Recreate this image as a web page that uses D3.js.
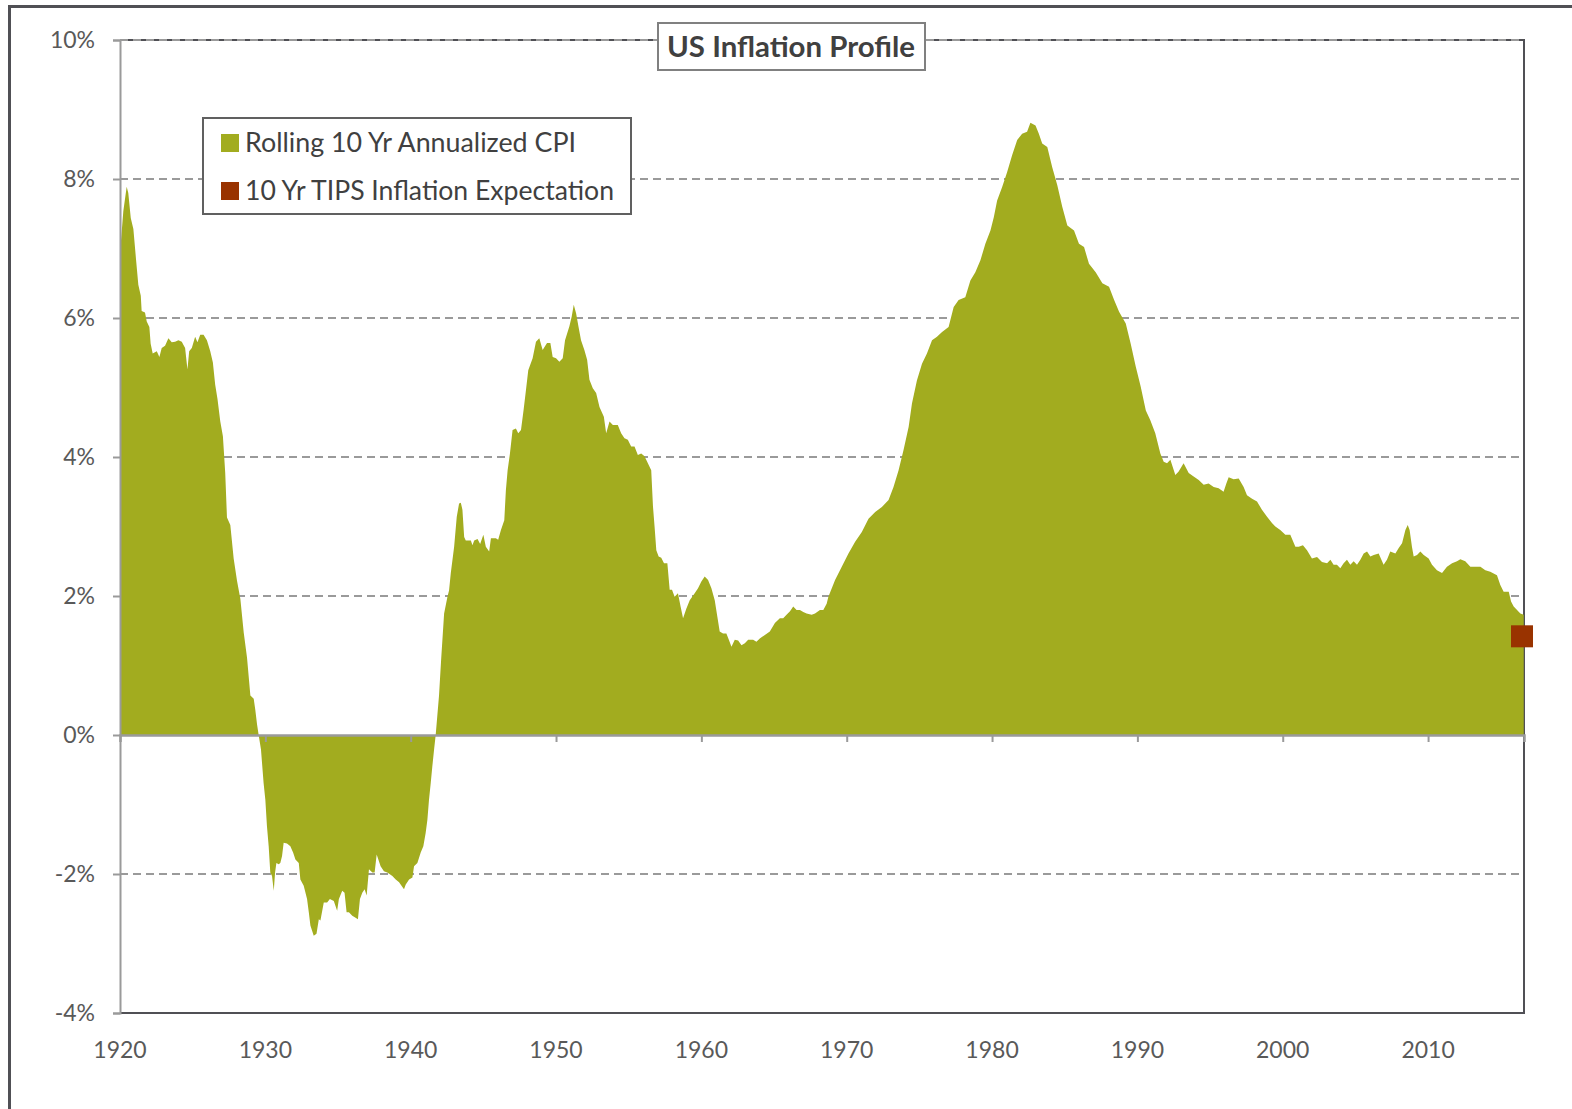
<!DOCTYPE html>
<html>
<head>
<meta charset="utf-8">
<script src="https://cdn.jsdelivr.net/npm/d3@7"></script>
<style>
  html, body { margin: 0; padding: 0; background: #fff; }
  svg { display: block; }
</style>
</head>
<body>
<svg id="chart" width="1572" height="1109"></svg>
<script>
// ---- Data ----
const chartTitle = "US Inflation Profile";
const seriesNames = ["Rolling 10 Yr Annualized CPI", "10 Yr TIPS Inflation Expectation"];
const yTickValues = [-4, -2, 0, 2, 4, 6, 8, 10];
const yTickLabels = ["-4%", "-2%", "0%", "2%", "4%", "6%", "8%", "10%"];
const xTickValues = [1920, 1930, 1940, 1950, 1960, 1970, 1980, 1990, 2000, 2010];
const xTickLabels = ["1920", "1930", "1940", "1950", "1960", "1970", "1980", "1990", "2000", "2010"];
const xDomain = [1920, 2016.6];
const yDomain = [-4, 10];

// Rolling 10-year annualized CPI, [year, percent]
const cpiSeries = [
  [1920.00, 7.00], [1920.07, 7.12], [1920.23, 7.54], [1920.46, 7.89], [1920.57, 7.80],
  [1920.74, 7.44], [1920.92, 7.28], [1921.10, 6.85], [1921.26, 6.48], [1921.43, 6.32],
  [1921.49, 6.10], [1921.72, 6.08], [1921.84, 5.95], [1922.02, 5.87], [1922.11, 5.63],
  [1922.25, 5.49], [1922.53, 5.52], [1922.71, 5.44], [1922.87, 5.57], [1923.10, 5.60],
  [1923.33, 5.71], [1923.56, 5.65], [1923.79, 5.66], [1924.02, 5.68], [1924.25, 5.66],
  [1924.48, 5.57], [1924.64, 5.26], [1924.76, 5.52], [1924.94, 5.57], [1925.17, 5.73],
  [1925.33, 5.65], [1925.52, 5.76], [1925.75, 5.76], [1925.98, 5.68], [1926.21, 5.52],
  [1926.39, 5.36], [1926.55, 5.04], [1926.71, 4.83], [1926.90, 4.51], [1927.08, 4.30],
  [1927.24, 3.77], [1927.36, 3.13], [1927.59, 3.02], [1927.82, 2.54], [1928.05, 2.22],
  [1928.28, 1.96], [1928.51, 1.48], [1928.74, 1.11], [1928.97, 0.57], [1929.20, 0.52],
  [1929.31, 0.36], [1929.43, 0.15], [1929.54, 0.00], [1929.70, -0.21], [1929.88, -0.69],
  [1930.00, -0.93], [1930.11, -1.31], [1930.23, -1.60], [1930.34, -1.98], [1930.46, -2.03],
  [1930.58, -2.24], [1930.67, -1.98], [1930.76, -1.84], [1930.92, -1.86], [1931.03, -1.84],
  [1931.15, -1.74], [1931.26, -1.55], [1931.49, -1.56], [1931.72, -1.60], [1931.91, -1.69],
  [1932.07, -1.79], [1932.30, -1.84], [1932.41, -2.08], [1932.64, -2.17], [1932.87, -2.36],
  [1932.99, -2.55], [1933.10, -2.74], [1933.33, -2.89], [1933.52, -2.86], [1933.68, -2.65],
  [1933.79, -2.67], [1934.02, -2.41], [1934.25, -2.41], [1934.44, -2.36], [1934.71, -2.39],
  [1934.94, -2.53], [1935.06, -2.36], [1935.29, -2.24], [1935.45, -2.27], [1935.59, -2.55],
  [1935.75, -2.55], [1935.98, -2.60], [1936.21, -2.63], [1936.37, -2.65], [1936.51, -2.36],
  [1936.67, -2.27], [1936.83, -2.22], [1936.97, -2.31], [1937.13, -1.93], [1937.36, -1.98],
  [1937.52, -1.98], [1937.66, -1.72], [1937.93, -1.89], [1938.16, -1.96], [1938.39, -1.98],
  [1938.74, -2.03], [1938.97, -2.08], [1939.20, -2.12], [1939.54, -2.22], [1939.66, -2.15],
  [1939.89, -2.08], [1940.12, -2.05], [1940.23, -1.89], [1940.46, -1.84], [1940.69, -1.69],
  [1940.87, -1.60], [1941.03, -1.41], [1941.15, -1.22], [1941.26, -0.93], [1941.38, -0.69],
  [1941.49, -0.45], [1941.61, -0.21], [1941.72, 0.00], [1941.95, 0.57], [1942.10, 1.10],
  [1942.30, 1.75], [1942.53, 1.99], [1942.64, 2.08], [1942.76, 2.33], [1942.99, 2.71],
  [1943.17, 3.14], [1943.33, 3.33], [1943.45, 3.34], [1943.56, 3.24], [1943.68, 2.85],
  [1943.79, 2.80], [1944.14, 2.80], [1944.25, 2.73], [1944.37, 2.80], [1944.60, 2.82],
  [1944.78, 2.75], [1945.00, 2.88], [1945.17, 2.71], [1945.40, 2.64], [1945.52, 2.83],
  [1945.86, 2.83], [1946.02, 2.81], [1946.21, 2.95], [1946.44, 3.09], [1946.55, 3.52],
  [1946.67, 3.81], [1946.83, 4.05], [1947.01, 4.39], [1947.24, 4.41], [1947.40, 4.34],
  [1947.59, 4.39], [1947.77, 4.68], [1947.93, 4.96], [1948.09, 5.25], [1948.39, 5.42],
  [1948.62, 5.66], [1948.85, 5.71], [1949.08, 5.54], [1949.38, 5.64], [1949.61, 5.64],
  [1949.77, 5.44], [1950.00, 5.42], [1950.23, 5.37], [1950.46, 5.42], [1950.62, 5.68],
  [1950.92, 5.88], [1951.08, 6.02], [1951.22, 6.19], [1951.38, 6.07], [1951.54, 5.88],
  [1951.72, 5.68], [1951.95, 5.54], [1952.14, 5.40], [1952.30, 5.11], [1952.53, 4.99],
  [1952.76, 4.92], [1952.99, 4.72], [1953.29, 4.58], [1953.45, 4.34], [1953.68, 4.51],
  [1953.91, 4.46], [1954.25, 4.46], [1954.48, 4.34], [1954.71, 4.27], [1954.94, 4.25],
  [1955.17, 4.15], [1955.40, 4.15], [1955.63, 4.03], [1955.86, 4.05], [1956.09, 4.01],
  [1956.32, 3.91], [1956.55, 3.81], [1956.67, 3.29], [1956.78, 3.00], [1956.90, 2.66],
  [1957.06, 2.57], [1957.24, 2.55], [1957.43, 2.47], [1957.66, 2.47], [1957.82, 2.09],
  [1957.98, 2.09], [1958.16, 1.99], [1958.39, 2.04], [1958.57, 1.85], [1958.74, 1.68],
  [1958.97, 1.82], [1959.20, 1.94], [1959.54, 2.04], [1959.77, 2.11], [1960.00, 2.21],
  [1960.23, 2.28], [1960.46, 2.23], [1960.69, 2.11], [1960.92, 1.94], [1961.10, 1.70],
  [1961.26, 1.49], [1961.49, 1.46], [1961.72, 1.46], [1961.89, 1.37], [1962.07, 1.27],
  [1962.30, 1.37], [1962.53, 1.36], [1962.76, 1.29], [1962.99, 1.32], [1963.22, 1.37],
  [1963.56, 1.37], [1963.79, 1.34], [1964.02, 1.39], [1964.37, 1.44], [1964.71, 1.49],
  [1965.06, 1.61], [1965.40, 1.68], [1965.63, 1.68], [1965.86, 1.73], [1966.10, 1.78],
  [1966.32, 1.85], [1966.55, 1.80], [1966.78, 1.80], [1967.01, 1.77], [1967.24, 1.75],
  [1967.59, 1.73], [1967.82, 1.75], [1968.16, 1.80], [1968.39, 1.80], [1968.62, 1.89],
  [1968.74, 1.99], [1969.20, 2.23], [1969.66, 2.42], [1970.12, 2.61], [1970.58, 2.78],
  [1971.04, 2.92], [1971.50, 3.11], [1971.96, 3.21], [1972.42, 3.28], [1972.88, 3.38],
  [1973.22, 3.57], [1973.57, 3.81], [1973.91, 4.10], [1974.26, 4.43], [1974.49, 4.77],
  [1974.83, 5.10], [1975.18, 5.34], [1975.52, 5.49], [1975.87, 5.68], [1976.21, 5.73],
  [1976.56, 5.80], [1977.01, 5.87], [1977.36, 6.16], [1977.70, 6.26], [1978.16, 6.30],
  [1978.51, 6.54], [1978.85, 6.66], [1979.20, 6.83], [1979.54, 7.07], [1979.89, 7.26],
  [1980.12, 7.45], [1980.35, 7.69], [1980.69, 7.88], [1981.04, 8.10], [1981.38, 8.34],
  [1981.73, 8.56], [1982.07, 8.65], [1982.41, 8.68], [1982.64, 8.81], [1982.99, 8.77],
  [1983.22, 8.65], [1983.45, 8.51], [1983.80, 8.46], [1984.14, 8.17], [1984.49, 7.91],
  [1984.83, 7.60], [1985.18, 7.33], [1985.64, 7.26], [1985.98, 7.07], [1986.33, 7.02],
  [1986.67, 6.78], [1987.13, 6.66], [1987.59, 6.50], [1988.05, 6.45], [1988.40, 6.26],
  [1988.74, 6.09], [1989.20, 5.92], [1989.54, 5.63], [1989.89, 5.30], [1990.23, 5.01],
  [1990.58, 4.67], [1990.89, 4.53], [1991.23, 4.34], [1991.58, 4.05], [1991.81, 3.93],
  [1992.04, 3.91], [1992.27, 3.96], [1992.61, 3.74], [1992.84, 3.79], [1993.18, 3.91],
  [1993.53, 3.77], [1993.87, 3.72], [1994.22, 3.67], [1994.56, 3.60], [1994.90, 3.62],
  [1995.25, 3.57], [1995.59, 3.55], [1995.93, 3.50], [1996.12, 3.62], [1996.28, 3.71],
  [1996.62, 3.68], [1996.97, 3.69], [1997.31, 3.57], [1997.54, 3.45], [1997.89, 3.40],
  [1998.23, 3.36], [1998.57, 3.24], [1998.92, 3.14], [1999.26, 3.05], [1999.49, 3.00],
  [1999.83, 2.95], [2000.18, 2.88], [2000.52, 2.88], [2000.87, 2.71], [2001.10, 2.71],
  [2001.39, 2.73], [2001.67, 2.66], [2002.01, 2.54], [2002.36, 2.56], [2002.70, 2.49],
  [2003.05, 2.47], [2003.28, 2.52], [2003.50, 2.45], [2003.73, 2.45], [2003.96, 2.40],
  [2004.19, 2.47], [2004.42, 2.52], [2004.65, 2.45], [2004.88, 2.50], [2005.11, 2.45],
  [2005.34, 2.52], [2005.57, 2.61], [2005.80, 2.64], [2006.03, 2.57], [2006.26, 2.59],
  [2006.60, 2.61], [2006.94, 2.45], [2007.17, 2.52], [2007.40, 2.64], [2007.75, 2.61],
  [2007.98, 2.69], [2008.21, 2.76], [2008.44, 2.95], [2008.60, 3.02], [2008.73, 2.95],
  [2008.89, 2.71], [2009.01, 2.57], [2009.24, 2.59], [2009.47, 2.64], [2009.70, 2.59],
  [2010.04, 2.54], [2010.27, 2.45], [2010.61, 2.37], [2010.96, 2.33], [2011.30, 2.42],
  [2011.65, 2.47], [2011.99, 2.50], [2012.22, 2.53], [2012.56, 2.50], [2012.91, 2.42],
  [2013.25, 2.42], [2013.60, 2.42], [2013.94, 2.37], [2014.28, 2.35], [2014.74, 2.30],
  [2014.97, 2.16], [2015.20, 2.06], [2015.55, 2.06], [2015.71, 1.92], [2015.89, 1.85],
  [2016.12, 1.80], [2016.35, 1.75], [2016.58, 1.73]
];

// 10-year TIPS breakeven inflation expectation (single latest point)
const tipsSeries = [[2016.6, 1.42]];

// ---- Drawing ----
const colors = { cpi: "#A2AC1F", tips: "#993300", grid: "#9a9a9a", axis: "#9a9a9a",
                 border: "#505055", text: "#595959", dark: "#404040" };
const font = "Lato, 'Open Sans', 'DejaVu Sans', sans-serif";

const svg = d3.select("#chart");
const plot = { left: 120, right: 1524, top: 40, bottom: 1013 };

const x = d3.scaleLinear().domain(xDomain).range([plot.left, plot.right]);
const y = d3.scaleLinear().domain(yDomain).range([plot.bottom, plot.top]);

// outer frame (left and top edges visible)
svg.append("line").attr("x1", 9.5).attr("x2", 9.5).attr("y1", 5).attr("y2", 1109)
  .attr("stroke", colors.border).attr("stroke-width", 3);
svg.append("line").attr("x1", 8).attr("x2", 1572).attr("y1", 6.5).attr("y2", 6.5)
  .attr("stroke", colors.border).attr("stroke-width", 3);

// plot border (top, right, bottom)
svg.append("path")
  .attr("d", `M${plot.left},${plot.top}H${plot.right}V${plot.bottom}H${plot.left}`)
  .attr("fill", "none").attr("stroke", colors.border).attr("stroke-width", 2);

// gridlines
svg.append("g").selectAll("line")
  .data(yTickValues.filter(v => v !== 0 && v !== yDomain[0]))
  .join("line")
  .attr("x1", plot.left).attr("x2", plot.right)
  .attr("y1", d => y(d)).attr("y2", d => y(d))
  .attr("stroke", colors.grid).attr("stroke-width", 2)
  .attr("stroke-dasharray", "8,5");

// area
const area = d3.area()
  .x(d => x(d[0]))
  .y0(y(0))
  .y1(d => y(d[1]))
  .curve(d3.curveLinear);
svg.append("path").datum(cpiSeries)
  .attr("d", area)
  .attr("fill", colors.cpi);

// zero line with ticks (x axis)
const xAxis = d3.axisBottom(x).tickValues(xTickValues).tickSize(7).tickFormat("");
const xAxisG = svg.append("g").attr("transform", `translate(0,${y(0)})`).call(xAxis);
xAxisG.select(".domain").attr("stroke", colors.axis).attr("stroke-width", 2.5);
xAxisG.selectAll(".tick line").attr("stroke", colors.axis).attr("stroke-width", 2);
xAxisG.selectAll(".tick").filter(d => d === 1920).remove();

// left axis
const yAxis = d3.axisLeft(y).tickValues(yTickValues).tickSize(7)
  .tickFormat((d, i) => yTickLabels[i]).tickPadding(18);
const yAxisG = svg.append("g").attr("transform", `translate(${plot.left},0)`).call(yAxis);
yAxisG.select(".domain").attr("stroke", colors.axis).attr("stroke-width", 2);
yAxisG.selectAll(".tick line").attr("stroke", colors.axis).attr("stroke-width", 2);
yAxisG.selectAll(".tick text").attr("fill", colors.text)
  .style("font-family", font).style("font-size", "23px");

// bottom x labels
svg.append("g").selectAll("text")
  .data(xTickValues)
  .join("text")
  .attr("x", d => x(d)).attr("y", 1058)
  .attr("text-anchor", "middle")
  .attr("fill", colors.text)
  .style("font-family", font).style("font-size", "23px")
  .text((d, i) => xTickLabels[i]);

// TIPS marker
svg.append("g").selectAll("rect")
  .data(tipsSeries)
  .join("rect")
  .attr("x", d => x(d[0]) - 13).attr("y", d => y(d[1]) - 11)
  .attr("width", 22).attr("height", 22)
  .attr("fill", colors.tips);

// title box
const titleG = svg.append("g");
titleG.append("rect").attr("x", 658).attr("y", 23).attr("width", 267).attr("height", 47)
  .attr("fill", "#fff").attr("stroke", "#808080").attr("stroke-width", 2);
titleG.append("text").attr("x", 667).attr("y", 57)
  .attr("fill", colors.dark)
  .attr("textLength", 248).attr("lengthAdjust", "spacingAndGlyphs")
  .style("font-family", font).style("font-size", "28px").style("font-weight", "bold")
  .text(chartTitle);

// legend
const legendG = svg.append("g");
legendG.append("rect").attr("x", 203).attr("y", 118).attr("width", 428).attr("height", 96)
  .attr("fill", "#fff").attr("stroke", "#606060").attr("stroke-width", 2);
const legendColors = [colors.cpi, colors.tips];
const legendWidths = [331, 369];
seriesNames.forEach((name, i) => {
  const cy = 143 + i * 48;
  legendG.append("rect").attr("x", 221).attr("y", cy - 9).attr("width", 18).attr("height", 18)
    .attr("fill", legendColors[i]);
  legendG.append("text").attr("x", 245).attr("y", cy + 9)
    .attr("fill", colors.dark)
    .attr("textLength", legendWidths[i]).attr("lengthAdjust", "spacingAndGlyphs")
    .style("font-family", font).style("font-size", "26px")
    .text(name);
});
</script>
</body>
</html>
